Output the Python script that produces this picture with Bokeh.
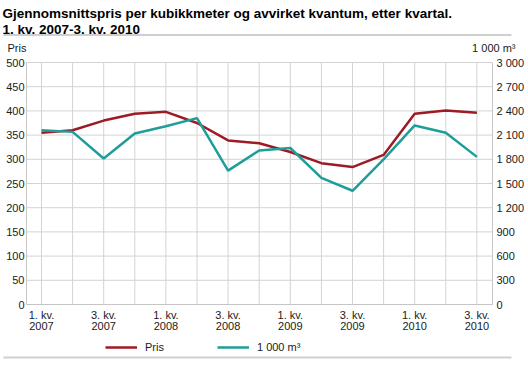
from bokeh.plotting import figure
from bokeh.models import (Range1d, LinearAxis, FixedTicker, Label, Legend,
                          LegendItem, BoxAnnotation)
from bokeh.core.properties import value
from bokeh.embed import file_html
from bokeh.resources import INLINE

# ---------------- data ----------------
title_line1 = "Gjennomsnittspris per kubikkmeter og avvirket kvantum, etter kvartal."
title_line2 = "1. kv. 2007-3. kv. 2010"
left_unit = "Pris"
right_unit = "1 000 m\u00b3"
series_names = ["Pris", "1 000 m\u00b3"]

quarters = ["1. kv.\n2007", "2. kv.\n2007", "3. kv.\n2007", "4. kv.\n2007",
            "1. kv.\n2008", "2. kv.\n2008", "3. kv.\n2008", "4. kv.\n2008",
            "1. kv.\n2009", "2. kv.\n2009", "3. kv.\n2009", "4. kv.\n2009",
            "1. kv.\n2010", "2. kv.\n2010", "3. kv.\n2010"]
pris = [355, 360, 380, 394, 398, 375, 339, 333, 315, 292, 284, 309, 394, 401, 396]
volum = [2160, 2140, 1810, 2120, 2210, 2310, 1660, 1910, 1940, 1570, 1410, 1800, 2220, 2130, 1830]

left_ticks = [0, 50, 100, 150, 200, 250, 300, 350, 400, 450, 500]
right_ticks = [0, 300, 600, 900, 1200, 1500, 1800, 2100, 2400, 2700, 3000]
right_tick_labels = ["0", "300", "600", "900", "1 200", "1 500", "1 800",
                     "2 100", "2 400", "2 700", "3 000"]
shown_quarter_idx = [0, 2, 4, 6, 8, 10, 12, 14]

# ---------------- style / layout ----------------
RED = "#9e1a25"
TEAL = "#1e9e9a"
GRID = "#d3d3d3"
EDGE = "#c6c6c6"
RULE = "#cfcfcf"
FONT = "Liberation Sans"
TXT = "#1a1a1a"

W, H = 528, 366
FRAME_L, FRAME_R = 26, 492          # chart area, page px
FRAME_T, FRAME_B = 62, 304
CAT0_PX, CAT_STEP = 41.0, 31.1
ymax = left_ticks[-1]
vmax = right_ticks[-1]
ppu = (FRAME_B - FRAME_T) / ymax     # px per price unit


def X(px):
    return (px - CAT0_PX) / CAT_STEP


def Y(py):
    return (FRAME_B - py) / ppu


ratio = vmax / ymax

p = figure(width=W, height=H, output_backend="svg", toolbar_location=None,
           x_range=Range1d(X(0), X(W)), y_range=Range1d(Y(H), Y(0)),
           min_border=0, outline_line_color=None,
           x_axis_location=None, y_axis_location=None)
p.extra_y_ranges = {"vol": Range1d(Y(H) * ratio, Y(0) * ratio)}
p.grid.visible = False

xs = list(range(len(quarters)))
xl, xr = X(FRAME_L), X(FRAME_R)

# grid lines (bounded to the chart area)
p.segment(x0=xs, y0=[left_ticks[0]] * len(xs), x1=xs, y1=[ymax] * len(xs),
          line_color=GRID, line_width=1)
p.segment(x0=[xl] * len(left_ticks), y0=left_ticks,
          x1=[xr] * len(left_ticks), y1=left_ticks,
          line_color=GRID, line_width=1)

r1 = p.line(xs, pris, line_color=RED, line_width=2.5)
r2 = p.line(xs, volum, line_color=TEAL, line_width=2.5, y_range_name="vol")

# axes, pinned to the chart-area edges
ya = LinearAxis(ticker=FixedTicker(ticks=left_ticks), fixed_location=xl,
                bounds=(left_ticks[0], ymax), major_label_standoff=2)
ra = LinearAxis(y_range_name="vol", ticker=FixedTicker(ticks=right_ticks),
                fixed_location=xr, bounds=(right_ticks[0], vmax),
                major_label_standoff=4)
ra.major_label_overrides = {t: l for t, l in zip(right_ticks, right_tick_labels)}
xa = LinearAxis(ticker=FixedTicker(ticks=shown_quarter_idx), fixed_location=0,
                bounds=(xl, xr), major_label_standoff=4)
xa.major_label_overrides = {i: quarters[i] for i in shown_quarter_idx}
xa.major_label_text_line_height = 0.95
p.add_layout(ya, "left")
p.add_layout(ra, "right")
p.add_layout(xa, "below")

for ax in (xa, ya, ra):
    ax.axis_line_color = EDGE
    ax.axis_line_width = 1
    ax.major_tick_line_color = None
    ax.minor_tick_line_color = None
    ax.major_tick_out = 0
    ax.major_tick_in = 0
    ax.major_label_text_font = FONT
    ax.major_label_text_font_size = "11px"
    ax.major_label_text_color = TXT

# header texts and rules
p.add_layout(Label(x=X(2), y=Y(12.5), text=title_line1, text_font=FONT,
                   text_font_size="13.5px", text_font_style="bold",
                   text_color="#000000", text_baseline="alphabetic"))
p.add_layout(Label(x=X(2), y=Y(28.5), text=title_line2, text_font=FONT,
                   text_font_size="13.5px", text_font_style="bold",
                   text_color="#000000", text_baseline="alphabetic"))
p.add_layout(Label(x=X(7), y=Y(47), text=left_unit, text_font=FONT,
                   text_font_size="11px", text_color=TXT,
                   text_baseline="middle", text_align="left"))
p.add_layout(Label(x=X(515), y=Y(47), text=right_unit, text_font=FONT,
                   text_font_size="11px", text_color=TXT,
                   text_baseline="middle", text_align="right"))
for top in (33.5, 356):
    p.add_layout(BoxAnnotation(left=X(3), right=X(511), top=Y(top),
                               bottom=Y(top + 2), fill_color=RULE,
                               fill_alpha=1.0, line_color=None))

# legend
legend = Legend(items=[LegendItem(label=value(series_names[0]), renderers=[r1]),
                       LegendItem(label=value(series_names[1]), renderers=[r2])],
                orientation="horizontal", location=(105, 10),
                glyph_width=32, glyph_height=18, label_standoff=8, spacing=53,
                label_width=0, label_height=18, padding=0, margin=0,
                label_text_font=FONT, label_text_font_size="11px",
                label_text_color=TXT, background_fill_alpha=0,
                border_line_alpha=0)
p.add_layout(legend, "center")

open("out.html", "w").write(file_html(p, INLINE))
